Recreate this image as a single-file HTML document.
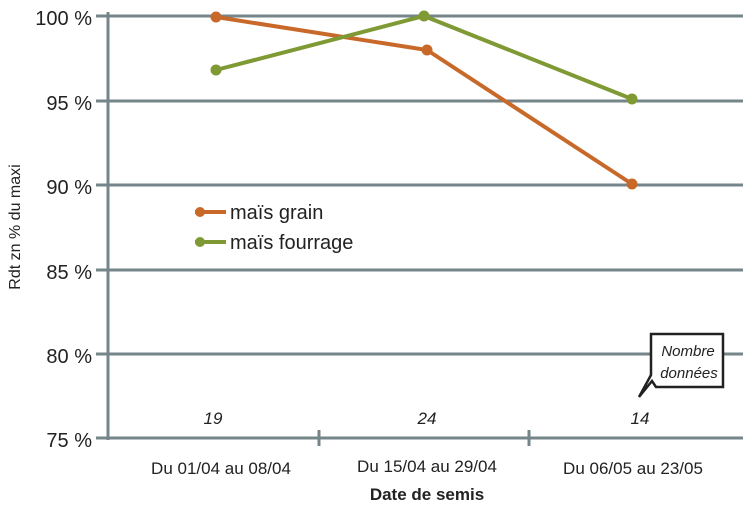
<!DOCTYPE html>
<html><head><meta charset="utf-8"><style>body{margin:0;background:#fff}svg{display:block}text{font-family:"Liberation Sans",sans-serif}</style></head><body>
<svg width="747" height="515" viewBox="0 0 747 515">
<g stroke="#75868a" stroke-width="3">
<line x1="96" y1="16" x2="743" y2="16"/>
<line x1="96" y1="101" x2="743" y2="101"/>
<line x1="96" y1="185" x2="743" y2="185"/>
<line x1="96" y1="270" x2="743" y2="270"/>
<line x1="96" y1="354" x2="743" y2="354"/>
<line x1="96" y1="438" x2="743" y2="438"/>
<line x1="108" y1="12" x2="108" y2="440"/>
<line x1="319" y1="430" x2="319" y2="446"/>
<line x1="529" y1="430" x2="529" y2="446"/>
</g>
<g font-size="20" fill="#222" text-anchor="end">
<text x="92" y="25">100 %</text><text x="92" y="110">95 %</text><text x="92" y="194">90 %</text>
<text x="92" y="279">85 %</text><text x="92" y="363">80 %</text><text x="92" y="447">75 %</text>
</g>
<text transform="translate(20,227) rotate(-90)" font-size="16" text-anchor="middle" fill="#222">Rdt zn % du maxi</text>
<polyline points="216,17 427,50 632,184" fill="none" stroke="#c8692a" stroke-width="4"/>
<polyline points="216,70 424,16 632,99" fill="none" stroke="#7f9a35" stroke-width="4"/>
<g fill="#c8692a"><circle cx="216" cy="17" r="5.5"/><circle cx="427" cy="50" r="5.5"/><circle cx="632" cy="184" r="5.5"/><circle cx="200" cy="212" r="5"/></g>
<g fill="#7f9a35"><circle cx="216" cy="70" r="5.5"/><circle cx="424" cy="16" r="5.5"/><circle cx="632" cy="99" r="5.5"/><circle cx="200" cy="242" r="5"/></g>
<line x1="195" y1="212" x2="226" y2="212" stroke="#c8692a" stroke-width="4"/>
<line x1="195" y1="242" x2="226" y2="242" stroke="#7f9a35" stroke-width="4"/>
<g font-size="20" fill="#222"><text x="230" y="219">maïs grain</text><text x="230" y="249">maïs fourrage</text></g>
<path d="M651,334 H723 V387 H656 L652,381 L639,397 L651,375 Z" fill="#fff" stroke="#222" stroke-width="2.5"/>
<g font-size="15" font-style="italic" fill="#222" text-anchor="middle"><text x="688" y="356">Nombre</text><text x="689" y="378">données</text></g>
<g font-size="17" font-style="italic" fill="#222" text-anchor="middle"><text x="213" y="424">19</text><text x="427" y="424">24</text><text x="640" y="424">14</text></g>
<g font-size="17" fill="#222" text-anchor="middle"><text x="221" y="474">Du 01/04 au 08/04</text><text x="427" y="472">Du 15/04 au 29/04</text><text x="633" y="474">Du 06/05 au 23/05</text></g>
<text x="427" y="500" font-size="17" font-weight="bold" fill="#222" text-anchor="middle">Date de semis</text>
</svg></body></html>
